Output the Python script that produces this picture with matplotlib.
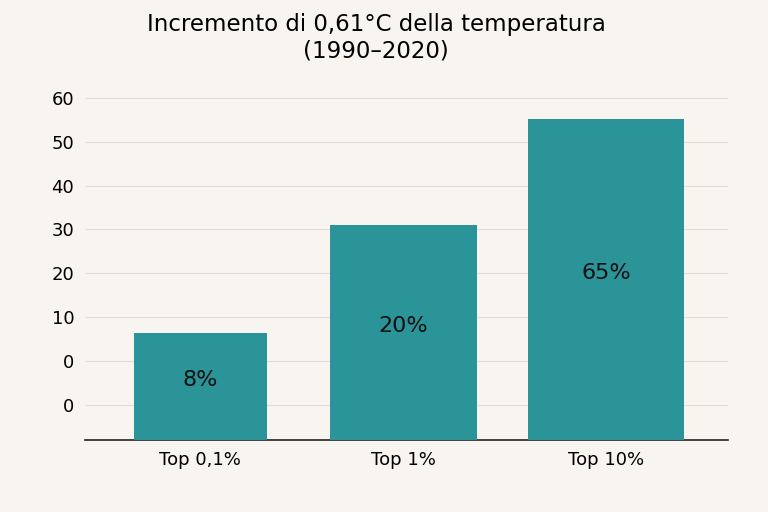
import matplotlib.pyplot as plt

categories = ["Top 0,1%", "Top 1%", "Top 10%"]
bar_tops = [6.4, 31.1, 55.3]
bar_labels = ["8%", "20%", "65%"]
tick_values = [60, 50, 40, 30, 20, 10, 0, -10]
tick_labels = ["60", "50", "40", "30", "20", "10", "0", "0"]

base = -18
bg = "#F8F5F0"
teal = "#2A9499"

fig = plt.figure(figsize=(7.68, 5.12), dpi=100, facecolor=bg)
ax = fig.add_axes([0.111, 0.141, 0.837, 0.683], facecolor=bg)
x = [0, 1, 2.0]
widths = [0.655, 0.724, 0.768]
heights = [t - base for t in bar_tops]
ax.bar(x, heights, bottom=base, width=widths, color=teal, zorder=3)
for xi, t, lab in zip(x, bar_tops, bar_labels):
    ax.text(xi, (t + base) / 2 + 1.5, lab, ha="center", va="center",
            fontsize=16, color="#111111", zorder=4)
ax.set_ylim(base, 61.8)
ax.set_xlim(-0.567, 2.6)
ax.set_yticks(tick_values)
ax.set_yticklabels(tick_labels, fontsize=13)
ax.set_xticks(x)
ax.set_xticklabels(categories, fontsize=13)
ax.grid(axis="y", color="#dddddd", linewidth=0.8, zorder=0)
for s in ["left", "right", "top"]:
    ax.spines[s].set_visible(False)
ax.spines["bottom"].set_color("#222222")
ax.spines["bottom"].set_linewidth(1.2)
ax.tick_params(axis="both", length=0, pad=8)
fig.suptitle("Incremento di 0,61°C della temperatura\n(1990–2020)",
             x=0.49, y=0.975, fontsize=16.5, linespacing=1.2)
fig.savefig("out.png", dpi=100, facecolor=bg)
